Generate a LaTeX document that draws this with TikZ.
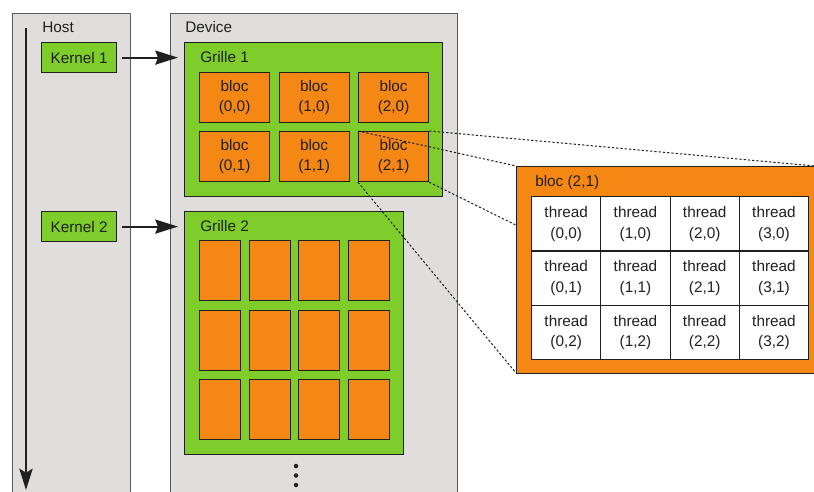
\documentclass[tikz,border=0pt]{standalone}
\usepackage{fontspec}
\setmainfont{Liberation Sans}
\usetikzlibrary{arrows.meta}
\definecolor{panelgray}{RGB}{223,222,221}
\definecolor{edgegray}{RGB}{90,90,90}
\definecolor{grgreen}{RGB}{126,205,42}
\definecolor{blorange}{RGB}{245,136,21}
\definecolor{ink}{RGB}{32,32,32}
\def\PX{0.75pt}
\begin{document}
\begin{tikzpicture}[x=0.75pt,y=-0.75pt,
  font=\fontsize{11.5}{15.5}\selectfont, text=ink,
  panel/.style={draw=edgegray, line width=1pt, fill=panelgray, anchor=north west, inner sep=0},
  gridbox/.style={draw=ink, line width=0.9pt, fill=grgreen, anchor=north west, inner sep=0},
  kbox/.style={draw=ink, line width=0.9pt, fill=grgreen, anchor=north west, inner sep=0,
    minimum width=75*\PX, minimum height=30*\PX},
  blk/.style={draw=ink, line width=0.9pt, fill=blorange, anchor=north west, inner sep=0,
    minimum width=70*\PX, minimum height=50*\PX, align=center},
  smallblk/.style={draw=ink, line width=0.9pt, fill=blorange, anchor=north west, inner sep=0,
    minimum width=41*\PX, minimum height=60*\PX},
  cell/.style={draw=ink, line width=0.9pt, fill=white, anchor=north west, inner sep=0,
    minimum width=69.25*\PX, minimum height=54.33*\PX, align=center},
  lbl/.style={anchor=base west, inner sep=0},
  karrow/.style={draw=ink, line width=1.6pt, -{Stealth[length=17pt,width=10.5pt,inset=2pt]},
    shorten <=3.5pt, shorten >=4.5pt},
  harrow/.style={draw=ink, line width=1.6pt, -{Stealth[length=16pt,width=10pt,inset=3pt]}},
  zoomline/.style={draw=ink, line width=0.75pt, dash pattern=on 1.7pt off 1.5pt},
  dotmark/.style={circle, fill=ink, inner sep=0, minimum size=4.5*\PX}
]
\useasboundingbox (0,0) rectangle (814,492);
\clip (0,0) rectangle (814,492);

% panels
\node[panel, minimum width=118*\PX, minimum height=500*\PX] (host) at (12,13) {};
\node[panel, minimum width=287*\PX, minimum height=500*\PX] (device) at (170,13) {};
\node[lbl] (hostlbl) at (42,32.5) {Host};
\node[lbl] (devlbl) at (185,32.5) {Device};

% host timeline
\coordinate (htop) at (26,28);
\coordinate (hbot) at (26,490);
\draw[harrow] (htop) -- (hbot);

% kernels
\node[kbox] (k1) at (41,42) {Kernel 1};
\node[kbox] (k2) at (41,211) {Kernel 2};

% grids
\node[gridbox, minimum width=258*\PX, minimum height=154*\PX] (g1) at (184,42) {};
\node[gridbox, minimum width=219*\PX, minimum height=243*\PX] (g2) at (184,211) {};
\node[lbl] (g1lbl) at (200,62.5) {Grille 1};
\node[lbl] (g2lbl) at (200,231) {Grille 2};

\draw[karrow] (k1.east) -- (k1.east -| g1.west);
\draw[karrow] (k2.east) -- (k2.east -| g2.west);

% blocks of grid 1
\foreach \i in {0,1,2}{
  \foreach \j in {0,1}{
    \node[blk] (b\i\j) at ({199+79.5*\i},{72+59*\j}) {bloc\\(\i,\j)};
  }
}

% blocks of grid 2
\foreach \i in {0,1,2,3}{
  \foreach \j in {0,1,2}{
    \node[smallblk] (s\i\j) at ({199+49.5*\i},{240+69.5*\j}) {};
  }
}

% continuation dots
\node[dotmark] (d1) at (296,466) {};
\node[dotmark] (d2) at (296,475.5) {};
\node[dotmark] (d3) at (296,485) {};

% zoomed block
\coordinate (bigNW) at (516,166);
\coordinate (bigNE) at (815,166);
\coordinate (bigSW) at (516,373);
\coordinate (bigSE) at (815,373);
\draw[zoomline] (b21.north west) -- (bigNW);
\draw[zoomline] (b21.north east) -- (bigNE);
\draw[zoomline] (b21.south west) -- (bigSW);
\draw[zoomline] (b21.south east) -- (bigSE);

\node[draw=ink, line width=1pt, fill=blorange, anchor=north west, inner sep=0,
  minimum width=300*\PX, minimum height=207*\PX] (big) at (bigNW) {};
\node[lbl] (biglbl) at (535,186.5) {bloc (2,1)};

\foreach \i in {0,1,2,3}{
  \foreach \j in {0,1,2}{
    \node[cell] (t\i\j) at ({531+69.25*\i},{196+54.33*\j}) {thread\\(\i,\j)};
  }
}
\end{tikzpicture}
\end{document}
